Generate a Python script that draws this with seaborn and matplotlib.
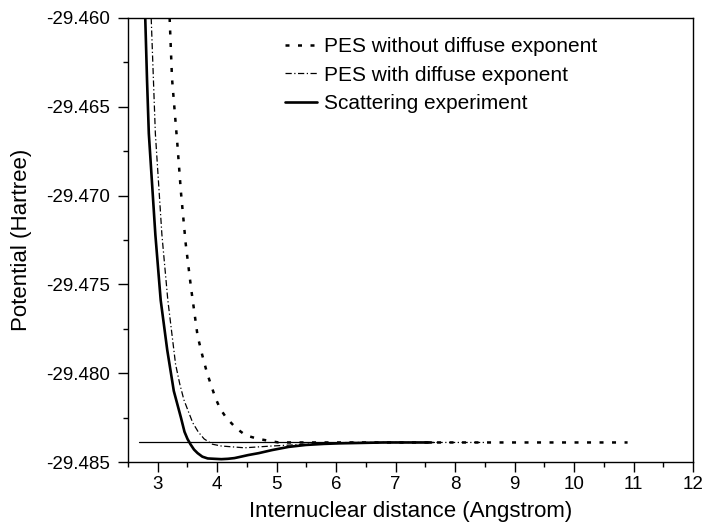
import numpy as np
import pandas as pd
import matplotlib
matplotlib.use("Agg")
import matplotlib.pyplot as plt
from matplotlib.ticker import MultipleLocator, FormatStrFormatter
import seaborn as sns

# Values
r_no_diffuse = [3.20, 3.24, 3.33, 3.39, 3.47, 3.56, 3.67, 3.75, 3.83, 3.90, 3.97,
                4.05, 4.15, 4.32, 4.48, 4.69, 4.86, 5.03, 5.50, 6.00, 7.00, 8.00,
                9.00, 10.00, 10.90]
v_no_diffuse = [-29.4600, -29.4634, -29.4671, -29.4698, -29.4727, -29.4752, -29.4779,
                -29.4790, -29.4800, -29.4807, -29.4814, -29.4820, -29.4825, -29.4831,
                -29.4835, -29.4837, -29.4838, -29.4839, -29.4839, -29.4839, -29.4839,
                -29.4839, -29.4839, -29.4839, -29.4839]

r_diffuse = [2.89, 2.96, 3.07, 3.17, 3.30, 3.37, 3.44, 3.52, 3.59, 3.68, 3.78,
             3.92, 4.07, 4.46, 4.92, 5.49, 6.20, 7.00, 8.50]
v_diffuse = [-29.4600, -29.4665, -29.4722, -29.4759, -29.4795, -29.4806, -29.4815,
             -29.4822, -29.4828, -29.4833, -29.4837, -29.4840, -29.4841, -29.4842,
             -29.4841, -29.4840, -29.4839, -29.4839, -29.4839]

r_scatter = [2.79, 2.82, 2.85, 2.96, 3.05, 3.16, 3.27, 3.39, 3.45, 3.50, 3.55,
             3.61, 3.67, 3.75, 3.84, 3.95, 4.07, 4.18, 4.29, 4.40, 4.52, 4.70,
             4.92, 5.20, 5.49, 5.80, 6.06, 6.80, 7.60]
v_scatter = [-29.4600, -29.4635, -29.4665, -29.4722, -29.4759, -29.4787, -29.4810,
             -29.4825, -29.4833, -29.4837, -29.4840, -29.4843, -29.4845, -29.4847,
             -29.4848, -29.48482, -29.48484, -29.48482, -29.48478, -29.4847,
             -29.48461, -29.4845, -29.48433, -29.48415, -29.48404, -29.48398,
             -29.48395, -29.4839, -29.4839]

r_asym = [2.68, 7.64]
v_asym = [-29.4839, -29.4839]

labels = ["PES without diffuse exponent", "PES with diffuse exponent",
          "Scattering experiment"]

sns.set_style("ticks", {"text.color": "black", "axes.labelcolor": "black",
                        "xtick.color": "black", "ytick.color": "black",
                        "axes.edgecolor": "black"})
plt.rcParams['font.family'] = ['Liberation Sans', 'DejaVu Sans']
plt.rcParams['axes.unicode_minus'] = False

fig = plt.figure(figsize=(7.04, 5.27), dpi=100)
ax = fig.add_axes([128 / 704, 1 - 462 / 527, (693 - 128) / 704, (462 - 18) / 527])

# thin reference line at the asymptote
sns.lineplot(x=r_asym, y=v_asym, ax=ax, color="black", linewidth=0.9,
             estimator=None)
sns.lineplot(x=r_no_diffuse, y=v_no_diffuse, ax=ax, color="black", linewidth=1.8,
             linestyle=(0, (1.6, 3.4)), estimator=None, label=labels[0])
sns.lineplot(x=r_diffuse, y=v_diffuse, ax=ax, color="black", linewidth=0.9,
             linestyle=(0, (5, 2, 1, 2)), estimator=None, label=labels[1])
sns.lineplot(x=r_scatter, y=v_scatter, ax=ax, color="black", linewidth=1.9,
             estimator=None, label=labels[2])

ax.set_xlim(2.5, 12)
ax.set_ylim(-29.485, -29.460)
ax.xaxis.set_major_locator(MultipleLocator(1))
ax.xaxis.set_minor_locator(MultipleLocator(0.5))
ax.yaxis.set_major_locator(MultipleLocator(0.005))
ax.yaxis.set_minor_locator(MultipleLocator(0.0025))
ax.yaxis.set_major_formatter(FormatStrFormatter('%.3f'))

ax.tick_params(which="major", direction="out", length=7.5, width=1, labelsize=13.5,
               color="black", labelcolor="black", top=False, right=False)
ax.tick_params(which="minor", direction="out", length=3.5, width=1,
               top=False, right=False)
ax.tick_params(axis="x", which="major", pad=2.5)
ax.tick_params(axis="y", which="major", pad=5.5)
for side in ["left", "right", "top", "bottom"]:
    ax.spines[side].set_visible(True)
    ax.spines[side].set_color("black")
    ax.spines[side].set_linewidth(1)
ax.grid(False)

ax.set_xlabel("Internuclear distance (Angstrom)", fontsize=16, labelpad=6)
ax.set_ylabel("Potential (Hartree)", fontsize=16, labelpad=10)

handles, labs = ax.get_legend_handles_labels()
ax.legend(handles, labs, loc="upper left", bbox_to_anchor=(285 / 704, 1 - 37 / 527),
          bbox_transform=fig.transFigure, frameon=False, fontsize=15,
          handlelength=1.55, handletextpad=0.3, labelspacing=0.46,
          borderpad=0, borderaxespad=0)

fig.savefig("out.png", dpi=100)
plt.close(fig)
